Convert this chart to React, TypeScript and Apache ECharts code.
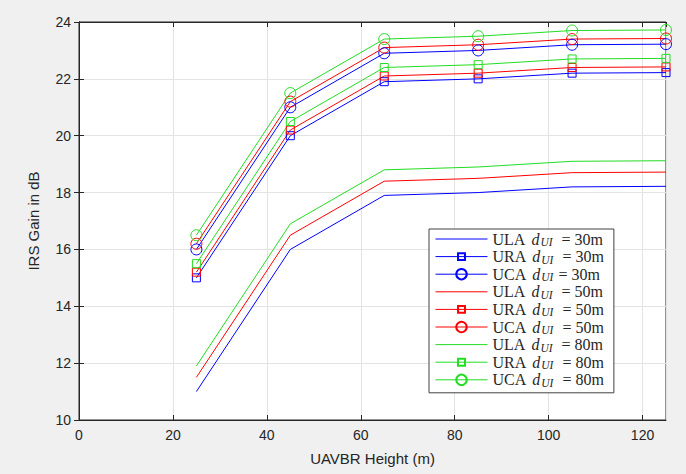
import React, { useEffect, useRef } from "react";
import * as echarts from "echarts";

const heights = [25, 45, 65, 85, 105, 125];
const ula30 = [11.0, 16.0, 17.9, 18.0, 18.2, 18.22];
const ura30 = [15.0, 20.0, 21.9, 22.0, 22.2, 22.22];
const uca30 = [16.0, 21.0, 22.9, 23.0, 23.2, 23.22];
const ula50 = [11.5, 16.5, 18.4, 18.5, 18.7, 18.72];
const ura50 = [15.2, 20.2, 22.1, 22.2, 22.4, 22.42];
const uca50 = [16.2, 21.2, 23.1, 23.2, 23.4, 23.42];
const ula80 = [11.9, 16.9, 18.8, 18.9, 19.1, 19.12];
const ura80 = [15.5, 20.5, 22.4, 22.5, 22.7, 22.72];
const uca80 = [16.5, 21.5, 23.4, 23.5, 23.7, 23.72];

const xTicks = { min: 0, max: 125, interval: 20 };
const yTicks = { min: 10, max: 24, interval: 2 };

// square marker with transparent margin so the legend square is smaller than the circle
const squareSymbol = "path://M0,0M12,12M2,2L10,2L10,10L2,10Z";

const seriesDefs = [
  { arr: "ULA", d: "30m", eq: " = ", color: "#0000ff", data: ula30, symbol: "none" },
  { arr: "URA", d: "30m", eq: " = ", color: "#0000ff", data: ura30, symbol: "rect" },
  { arr: "UCA", d: "30m", eq: "= ", color: "#0000ff", data: uca30, symbol: "circle" },
  { arr: "ULA", d: "50m", eq: " = ", color: "#ff0000", data: ula50, symbol: "none" },
  { arr: "URA", d: "50m", eq: " = ", color: "#ff0000", data: ura50, symbol: "rect" },
  { arr: "UCA", d: "50m", eq: " = ", color: "#ff0000", data: uca50, symbol: "circle" },
  { arr: "ULA", d: "80m", eq: " = ", color: "#22dd22", data: ula80, symbol: "none" },
  { arr: "URA", d: "80m", eq: " = ", color: "#22dd22", data: ura80, symbol: "rect" },
  { arr: "UCA", d: "80m", eq: " = ", color: "#22dd22", data: uca80, symbol: "circle" },
];

export default function App() {
  const ref = useRef<HTMLDivElement>(null);
  useEffect(() => {
    document.body.style.margin = "0";
    if (!ref.current) return;
    const chart = echarts.init(ref.current, null, { renderer: "svg" });
    const nameOf = (s: any) => `${s.arr}|${s.d}|${s.eq}`;
    const axisColor = "#262626";
    const sansFont = "Liberation Sans";
    const serif = "Liberation Serif";
    const txt = "#262626";
    chart.setOption({
      animation: false,
      backgroundColor: "#f0f0f0",
      grid: {
        left: 79,
        right: 20,
        top: 22,
        bottom: 54,
        show: true,
        backgroundColor: "#ffffff",
        borderColor: axisColor,
        borderWidth: 1,
      },
      xAxis: [
        {
          type: "value",
          ...xTicks,
          name: "UAVBR Height (m)",
          nameLocation: "middle",
          nameGap: 31,
          nameTextStyle: { fontSize: 15, color: axisColor, fontFamily: sansFont },
          axisLine: { show: true, lineStyle: { color: axisColor } },
          axisTick: { show: true, inside: true, length: 5, lineStyle: { color: axisColor } },
          axisLabel: { fontSize: 14, color: axisColor, fontFamily: sansFont, margin: 8, showMaxLabel: false },
          splitLine: { show: true, lineStyle: { color: "#e3e3e3" } },
        },
        {
          type: "value",
          position: "top",
          ...xTicks,
          axisLine: { show: true, lineStyle: { color: axisColor } },
          axisTick: { show: true, inside: true, length: 5, lineStyle: { color: axisColor } },
          axisLabel: { show: false },
          splitLine: { show: false },
        },
      ],
      yAxis: [
        {
          type: "value",
          ...yTicks,
          name: "IRS Gain in dB",
          nameLocation: "middle",
          nameGap: 38,
          nameTextStyle: { fontSize: 15, color: axisColor, fontFamily: sansFont },
          axisLine: { show: true, lineStyle: { color: axisColor } },
          axisTick: { show: true, inside: true, length: 5, lineStyle: { color: axisColor } },
          axisLabel: { fontSize: 14, color: axisColor, fontFamily: sansFont, margin: 8 },
          splitLine: { show: true, lineStyle: { color: "#e3e3e3" } },
        },
        {
          type: "value",
          position: "right",
          ...yTicks,
          axisLine: { show: true, lineStyle: { color: axisColor } },
          axisTick: { show: true, inside: true, length: 5, lineStyle: { color: axisColor } },
          axisLabel: { show: false },
          splitLine: { show: false },
        },
      ],
      legend: {
        orient: "vertical",
        left: 429,
        top: 229,
        itemWidth: 52,
        itemHeight: 13,
        itemGap: 0.6,
        padding: [2, 10, 4, 6],
        backgroundColor: "#ffffff",
        borderColor: "#404040",
        borderWidth: 1,
        borderRadius: 0,
        lineStyle: { width: 1 },
        data: seriesDefs.map((s) =>
          s.symbol === "none"
            ? { name: nameOf(s), itemStyle: { borderWidth: 0, color: "rgba(0,0,0,0)", borderColor: "rgba(0,0,0,0)" } }
            : { name: nameOf(s) }
        ),
        formatter: (name: string) => {
          const [arr, d, eq] = name.split("|");
          return `{n|${arr} }{i|d}{s|UI}{n|${eq}${d}}`;
        },
        textStyle: {
          fontFamily: serif,
          fontSize: 16,
          color: txt,
          rich: {
            n: { fontFamily: serif, fontSize: 16, color: txt },
            i: { fontFamily: serif, fontStyle: "italic", fontSize: 16, color: txt, padding: [0, 1, 0, 2] },
            s: { fontFamily: serif, fontStyle: "italic", fontSize: 11.5, color: txt, padding: [6, 5, 0, 0] },
          },
        },
      },
      series: seriesDefs.map((s) => ({
        type: "line",
        name: nameOf(s),
        data: heights.map((h, i) => [h, s.data[i]]),
        symbol: s.symbol === "rect" ? squareSymbol : s.symbol,
        symbolSize: s.symbol === "rect" ? 12 : 11,
        showSymbol: s.symbol !== "none",
        lineStyle: { color: s.color, width: 1 },
        itemStyle: { color: "rgba(255,255,255,0)", borderColor: s.color, borderWidth: 1 },
        emphasis: { disabled: true },
      })),
    });
    return () => chart.dispose();
  }, []);
  return <div ref={ref} style={{ width: 686, height: 474 }} />;
}
